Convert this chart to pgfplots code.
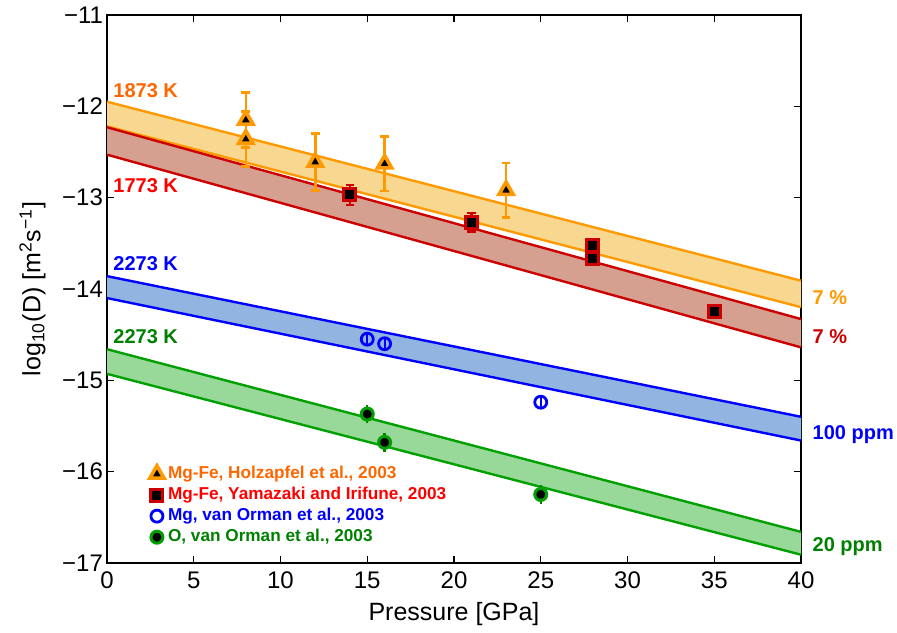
\documentclass[border=0pt]{standalone}
\usepackage{fontspec}
\setmainfont{Liberation Sans}
\usepackage{pgfplots}
\pgfplotsset{compat=1.18}
\definecolor{orL}{RGB}{255,153,0}
\definecolor{orT}{RGB}{255,102,0}
\definecolor{orF}{RGB}{248,216,144}
\definecolor{rdL}{RGB}{204,0,0}
\definecolor{rdF}{RGB}{214,160,145}
\definecolor{rdT}{RGB}{255,0,0}
\definecolor{blL}{RGB}{0,0,255}
\definecolor{blF}{RGB}{146,180,224}
\definecolor{grL}{RGB}{0,160,0}
\definecolor{grF}{RGB}{152,216,152}
\definecolor{grT}{RGB}{0,128,0}
\begin{document}
\begin{tikzpicture}
\begin{axis}[name=ax, scale only axis, width=347pt, height=274pt,
  xmin=0, xmax=40, ymin=-17, ymax=-11,
  xtick={0,5,...,40}, ytick={-17,...,-11},
  yticklabels={−17,−16,−15,−14,−13,−12,−11},
  tick align=inside, major tick length=3.5pt, clip=false,
  axis line style={line width=0.6pt}, tick style={black, line width=0.6pt},
  ticklabel style={font=\fontsize{12}{14}\selectfont},
  yticklabel style={xshift=1.5pt},
  xticklabel style={yshift=-1pt},
  /pgf/number format/assume math mode=true,
  xlabel={Pressure [GPa]},
  ylabel={log\textsubscript{10}(D) [m\textsuperscript{2}s\textsuperscript{−1}]},
  label style={font=\fontsize{12.5}{14}\selectfont},
  xlabel style={yshift=0pt}, ylabel style={yshift=1.5pt},
  legend style={at={(axis cs:2.1,-15.85)}, anchor=north west, draw=none, fill=none,
    font=\bfseries\fontsize{8.6}{9.5}\selectfont, row sep=-1.2pt},
  legend cell align=left,
]
% bands
\addplot[fill=orF, draw=none, forget plot] coordinates {(0,-11.95)(40,-13.91)(40,-14.20)(0,-12.22)};
\addplot[fill=rdF, draw=none, forget plot] coordinates {(0,-12.23)(40,-14.33)(40,-14.64)(0,-12.53)};
\addplot[fill=blF, draw=none, forget plot] coordinates {(0,-13.86)(40,-15.40)(40,-15.66)(0,-14.10)};
\addplot[fill=grF, draw=none, forget plot] coordinates {(0,-14.66)(40,-16.66)(40,-16.91)(0,-14.93)};
% lines
\addplot[orL, line width=1.2pt, forget plot] coordinates {(0,-11.95)(40,-13.91)};
\addplot[orL, line width=1.2pt, forget plot] coordinates {(0,-12.22)(40,-14.20)};
\addplot[rdL, line width=1.2pt, forget plot] coordinates {(0,-12.23)(40,-14.33)};
\addplot[rdL, line width=1.2pt, forget plot] coordinates {(0,-12.53)(40,-14.64)};
\addplot[blL, line width=1.2pt, forget plot] coordinates {(0,-13.86)(40,-15.40)};
\addplot[blL, line width=1.2pt, forget plot] coordinates {(0,-14.10)(40,-15.66)};
\addplot[grL, line width=1.2pt, forget plot] coordinates {(0,-14.66)(40,-16.66)};
\addplot[grL, line width=1.2pt, forget plot] coordinates {(0,-14.93)(40,-16.91)};
% data
\addplot[only marks, mark=triangle*, mark size=4.1pt, mark options={draw=orL, fill=black, line width=1.8pt},
  error bars/.cd, y dir=both, y explicit,
  error bar style={orL, line width=1.3pt},
  error mark options={rotate=90, orL, mark size=2.2pt, line width=1.3pt}]
  coordinates {(8,-12.15) +- (0,0.3) (8,-12.36) +- (0,0.3) (12,-12.61) +- (0,0.31) (16,-12.63) +- (0,0.3) (23,-12.92) +- (0,0.3)};
\addlegendentry{\textcolor{orT}{Mg-Fe, Holzapfel et al., 2003}}
\addplot[only marks, mark=square*, mark size=3pt, mark options={draw=rdL, fill=black, line width=1.5pt},
  error bars/.cd, y dir=both, y explicit,
  error bar style={rdL, line width=1.3pt},
  error mark options={rotate=90, rdL, mark size=2.2pt, line width=1.3pt}]
  coordinates {(14,-12.97) +- (0,0.11) (21,-13.27) +- (0,0.1) (28,-13.52) +- (0,0.05) (28,-13.67) +- (0,0.05) (35,-14.25) +- (0,0.05)};
\addlegendentry{\textcolor{rdT}{Mg-Fe, Yamazaki and Irifune, 2003}}
\addplot[only marks, mark=o, mark size=3pt, mark options={draw=blL, line width=1.4pt},
  error bars/.cd, y dir=both, y explicit,
  error bar style={blL, line width=1.1pt}, error mark=none]
  coordinates {(15,-14.55) +- (0,0.06) (16,-14.60) +- (0,0.06) (25,-15.24) +- (0,0.06)};
\addlegendentry{\textcolor{blL}{Mg, van Orman et al., 2003}}
\addplot[only marks, mark=*, mark size=3pt, mark options={draw=grL, fill=black, line width=1.5pt},
  error bars/.cd, y dir=both, y explicit,
  error bar style={grT, line width=1.2pt}, error mark=none]
  coordinates {(15,-15.37) +- (0,0.1) (16,-15.68) +- (0,0.1) (25,-16.25) +- (0,0.1)};
\addlegendentry{\textcolor{grT}{O, van Orman et al., 2003}}
% labels
\begin{scope}[every node/.style={font=\bfseries\fontsize{10}{11}\selectfont, inner sep=0pt, anchor=west}]
\node[text=orT] at (axis cs:0.35,-11.83) {1873 K};
\node[text=rdT] at (axis cs:0.35,-12.87) {1773 K};
\node[text=blL] at (axis cs:0.35,-13.72) {2273 K};
\node[text=grT] at (axis cs:0.35,-14.52) {2273 K};
\node[text=orL] at (axis cs:40.65,-14.10) {7 \%};
\node[text=rdL] at (axis cs:40.65,-14.52) {7 \%};
\node[text=blL] at (axis cs:40.65,-15.60) {100 ppm};
\node[text=grT] at (axis cs:40.65,-16.82) {20 ppm};
\end{scope}
\end{axis}
\path[use as bounding box] ([xshift=-53.5pt,yshift=-34pt]ax.south west) rectangle ([xshift=395pt,yshift=280pt]ax.south west);
\end{tikzpicture}
\end{document}
